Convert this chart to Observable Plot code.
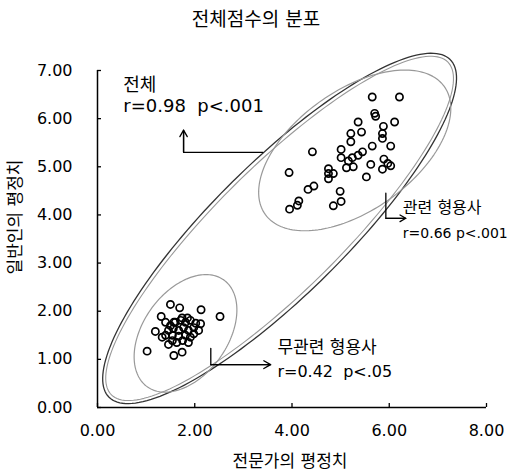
<!DOCTYPE html>
<html><head><meta charset="utf-8">
<script src="https://cdn.jsdelivr.net/npm/d3@7"></script>
<script src="https://cdn.jsdelivr.net/npm/@observablehq/plot@0.6"></script>
<style>
body{margin:0;background:#fff;}
#chart{width:515px;height:475px;}
</style></head><body><div id="chart"></div>
<script>
// ---- data ----
const titleText = "전체점수의 분포";
const xLabel = "전문가의 평정치";
const yLabel = "일반인의 평정치";
const xTicks = [0, 2, 4, 6, 8];
const yTicks = [0, 1, 2, 3, 4, 5, 6, 7];

// 관련 형용사 (related adjectives)
const relatedX = [5.65,6.21,5.70,5.72,5.36,6.11,5.88,5.21,5.43,5.86,5.86,5.21,5.65,6.03,4.42,5.01,5.45,5.01,5.36,5.24,5.16,5.12,5.26,5.62,5.89,5.86,6.03,5.97,4.75,4.75,4.85,4.75,5.53,3.94,4.45,4.33,4.99,4.14,4.11,3.95,5.01,4.85];
const relatedY = [6.45,6.45,6.11,6.05,5.93,5.93,5.84,5.69,5.72,5.69,5.59,5.52,5.43,5.43,5.31,5.36,5.31,5.19,5.24,5.19,5.12,4.98,5.00,5.05,5.16,4.95,5.02,5.07,4.96,4.86,4.86,4.75,4.79,4.88,4.60,4.53,4.49,4.29,4.20,4.12,4.28,4.19];
// 무관련 형용사 (unrelated adjectives)
const unrelatedX = [1.50,1.69,2.13,2.52,1.31,1.57,1.74,1.85,1.19,1.33,1.54,1.02,1.57,1.74,2.12,2.08,1.98,1.40,1.50,1.60,1.71,1.81,1.91,2.02,1.46,1.56,1.67,1.77,1.87,1.98,1.40,1.54,1.67,1.81,1.91,1.63,1.75,1.87,1.46];
const unrelatedY = [2.14,2.07,2.03,1.89,1.89,1.77,1.86,1.86,1.58,1.46,1.39,1.17,1.08,1.15,1.74,1.60,1.53,1.77,1.70,1.77,1.81,1.77,1.81,1.75,1.60,1.64,1.60,1.66,1.60,1.66,1.50,1.50,1.48,1.50,1.46,1.35,1.39,1.35,1.31];

// ellipses (data units): 전체, 관련, 무관련
const ellipseCx = [3.745, 5.29, 1.81];
const ellipseCy = [3.72, 5.34, 1.54];
const ellipseA = [4.96, 2.27, 1.36];
const ellipseB = [1.37, 1.24, 0.87];
const ellipseAngle = [45, 36, 55];

// annotation texts and anchors
const annoText = ["전체", "r=0.98  p<.001", "관련 형용사", "r=0.66 p<.001", "무관련 형용사", "r=0.42  p<.05"];
const annoX = [0.53, 0.53, 6.28, 6.28, 3.70, 3.70];
const annoY = [6.69, 6.26, 4.14, 3.62, 1.25, 0.73];

// connector arrows (polyline points, last point is the arrow tip)
const arrowX = [[3.40, 1.77, 1.77], [5.93, 5.93, 6.34], [2.33, 2.33, 3.56]];
const arrowY = [[5.30, 5.30, 5.76], [4.45, 3.93, 3.93], [1.23, 0.89, 0.89]];

// ---- build ----
const related = relatedX.map((x, i) => ({x, y: relatedY[i]}));
const unrelated = unrelatedX.map((x, i) => ({x, y: unrelatedY[i]}));
function ellipsePts(i, da = 0, db = 0) {
  const t = ellipseAngle[i] * Math.PI / 180, a = ellipseA[i] + da, b = ellipseB[i] + db;
  return d3.range(0, 361, 2).map(k => {
    const p = k * Math.PI / 180;
    return {x: ellipseCx[i] + a*Math.cos(p)*Math.cos(t) - b*Math.sin(p)*Math.sin(t),
            y: ellipseCy[i] + a*Math.cos(p)*Math.sin(t) + b*Math.sin(p)*Math.cos(t)};
  });
}
const annos = annoText.map((text, i) => ({text, x: annoX[i], y: annoY[i]}));
const paths = arrowX.map((xs, j) => xs.map((x, i) => ({x, y: arrowY[j][i], id: j})));
const heads = paths.map(p => ({x1: p[1].x, y1: p[1].y, x2: p[2].x, y2: p[2].y}));
const fmt = d3.format(".2f");

const chart = Plot.plot({
  width: 515, height: 475,
  marginLeft: 97, marginRight: 29, marginTop: 70, marginBottom: 68,
  style: {fontFamily: '"DejaVu Sans", "Noto Sans CJK KR", sans-serif', background: "#fff", color: "#000"},
  x: {domain: [0, 8]},
  y: {domain: [0, 7]},
  marks: [
    Plot.axisY({ticks: yTicks, tickSize: 0, tickPadding: 25, tickFormat: fmt, fontSize: 16, label: null}),
    Plot.axisX({ticks: xTicks, tickSize: 0, tickPadding: 17, tickFormat: fmt, fontSize: 16, label: null}),
    Plot.ruleX([0], {stroke: "#000", strokeWidth: 1.5}),
    Plot.ruleY([0], {stroke: "#000", strokeWidth: 1.5}),
    Plot.tickY(yTicks, {y: d => d, insetRight: 385, stroke: "#000", strokeWidth: 1.3}),
    Plot.tickX(xTicks, {x: d => d, insetTop: 333, stroke: "#000", strokeWidth: 1.3}),
    // ellipses
    Plot.line(ellipsePts(0), {x: "x", y: "y", stroke: "#333", strokeWidth: 1.3}),
    Plot.line(ellipsePts(0, -0.07, -0.08), {x: "x", y: "y", stroke: "#999", strokeWidth: 1.1}),
    Plot.line(ellipsePts(1), {x: "x", y: "y", stroke: "#999", strokeWidth: 1.2}),
    Plot.line(ellipsePts(2), {x: "x", y: "y", stroke: "#999", strokeWidth: 1.2}),
    // points
    Plot.dot(related, {x: "x", y: "y", r: 3.6, stroke: "#000", strokeWidth: 1.7, fill: "none"}),
    Plot.dot(unrelated, {x: "x", y: "y", r: 3.6, stroke: "#000", strokeWidth: 1.7, fill: "none"}),
    // arrows
    Plot.line(paths.flat(), {x: "x", y: "y", z: "id", stroke: "#000", strokeWidth: 1.3}),
    Plot.arrow(heads, {x1: "x1", y1: "y1", x2: "x2", y2: "y2", stroke: "#000", strokeWidth: 1.3, headLength: 9, headAngle: 60}),
    // annotations
    Plot.text(annos.slice(0, 2), {x: "x", y: "y", text: "text", textAnchor: "start", fontSize: 18, letterSpacing: 0.8, fill: "#000"}),
    Plot.text(annos.slice(2, 3), {x: "x", y: "y", text: "text", textAnchor: "start", fontSize: 16, fill: "#000"}),
    Plot.text(annos.slice(3, 4), {x: "x", y: "y", text: "text", textAnchor: "start", fontSize: 14, fill: "#000"}),
    Plot.text(annos.slice(4, 5), {x: "x", y: "y", text: "text", textAnchor: "start", fontSize: 17, fill: "#000"}),
    Plot.text(annos.slice(5, 6), {x: "x", y: "y", text: "text", textAnchor: "start", fontSize: 16, fill: "#000"}),
    // title and axis labels
    Plot.text([titleText], {frameAnchor: "top", textAnchor: "middle", lineAnchor: "middle", dy: -51, dx: -36, fontSize: 19, fill: "#000"}),
    Plot.text([yLabel], {frameAnchor: "left", textAnchor: "middle", lineAnchor: "middle", rotate: -90, dx: -82, dy: -22, fontSize: 17, fill: "#000"}),
    Plot.text([xLabel], {frameAnchor: "bottom", textAnchor: "middle", lineAnchor: "middle", dy: 54, dx: -2, fontSize: 17, fill: "#000"})
  ]
});
document.getElementById("chart").appendChild(chart);
</script>
</body></html>
